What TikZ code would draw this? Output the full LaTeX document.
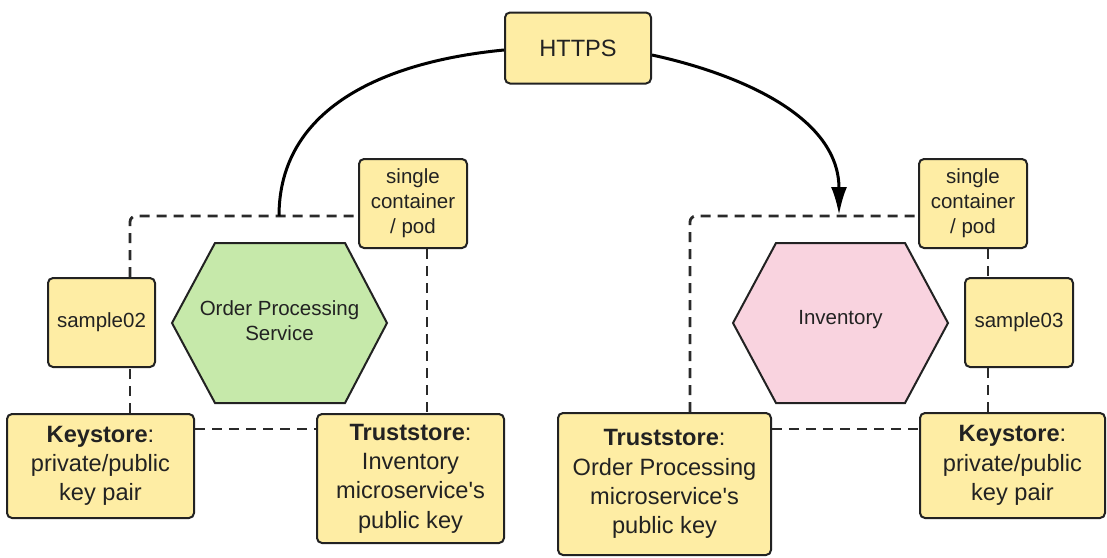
\documentclass[tikz,border=0pt]{standalone}
\usepackage{fontspec}
\setmainfont{Liberation Sans}
\newfontfamily\arialf{Liberation Sans}
\usetikzlibrary{arrows.meta,calc}
\definecolor{boxfill}{HTML}{FEEDA4}
\definecolor{boxline}{HTML}{222222}
\definecolor{hexgreen}{HTML}{C6E9AA}
\definecolor{hexpink}{HTML}{F9D3DF}
\definecolor{txt}{HTML}{222222}
\definecolor{dashcol}{HTML}{2A2A2A}
\tikzset{
  ybox/.style={draw=boxline, fill=boxfill, line width=2pt, rounded corners=5pt,
    inner sep=0pt, align=center, text=txt},
  smalltext/.style={font=\arialf\fontsize{20.5}{25}\selectfont},
  bigtext/.style={font=\arialf\fontsize{23.6}{29.3}\selectfont},
  hexshape/.style={draw=boxline, line width=2pt, line join=miter},
  hextext/.style={inner sep=0pt, align=center, text=txt, font=\arialf\fontsize{20.5}{25}\selectfont},
  frame/.style={draw=dashcol, line width=2.8pt, dash pattern=on 10pt off 7pt},
  link/.style={draw=black, line width=3pt},
}
\begin{document}
\begin{tikzpicture}[x=1pt,y=-1pt]
\useasboundingbox (0,0) rectangle (1107,557);

% top box
\node[ybox, bigtext, minimum width=146pt, minimum height=71pt] (https) at (578,48) {HTTPS};

% container labels
\node[ybox, smalltext, minimum width=108pt, minimum height=89pt] (cont1) at (413,203.5) {single\\container\\/ pod};
\node[ybox, smalltext, minimum width=108pt, minimum height=89pt] (cont2) at (973,203.5) {single\\container\\/ pod};

% sample boxes
\node[ybox, smalltext, minimum width=107pt, minimum height=89pt] (s02) at (101.5,322.5) {sample02};
\node[ybox, smalltext, minimum width=108pt, minimum height=89pt] (s03) at (1019,322.5) {sample03};

% stores
\node[ybox, bigtext, minimum width=187pt, minimum height=104pt] (ks1) at (100.5,466) {\textbf{Keystore}:\\private/public\\key pair};
\node[ybox, bigtext, minimum width=187pt, minimum height=129pt] (ts1) at (410.5,478.5) {\textbf{Truststore}:\\Inventory\\microservice's\\public key};
\node[ybox, bigtext, minimum width=213pt, minimum height=142pt] (ts2) at (664.5,484) {\textbf{Truststore}:\\Order Processing\\microservice's\\public key};
\node[ybox, bigtext, minimum width=185pt, minimum height=105pt] (ks2) at (1012.5,465.5) {\textbf{Keystore}:\\private/public\\key pair};

% hexagons
\coordinate (h1) at (279.5,323);
\coordinate (h2) at (840.5,323);
\draw[hexshape, fill=hexgreen] ($(h1)+(-107.5,0)$) -- ++(43,-80) -- ++(130,0) -- ++(42,80) -- ++(-42,80) -- ++(-130,0) -- cycle;
\draw[hexshape, fill=hexpink] ($(h2)+(-107.5,0)$) -- ++(43,-80) -- ++(129,0) -- ++(43,80) -- ++(-43,80) -- ++(-129,0) -- cycle;
\node[hextext] (ops) at (279.5,320.5) {Order Processing\\Service};
\node[hextext] (inv) at (840.5,320) {Inventory};

% dashed frames, left
\coordinate (L1) at (130,216);
\coordinate (L2) at (427,0);
\coordinate (L3) at (0,429);
\draw[frame, rounded corners=6pt] (s02.north -| L1) -- (L1) -- (cont1.west |- L1);
\draw[frame] (ks1.north -| L1) -- (s02.south -| L1);
\draw[frame] (cont1.south -| L2) -- (ts1.north -| L2);
\draw[frame] (ks1.east |- L3) -- (ts1.west |- L3);

% dashed frames, right
\coordinate (R1) at (690,216);
\coordinate (R2) at (988,0);
\draw[frame, rounded corners=6pt] (ts2.north -| R1) -- (R1) -- (cont2.west |- R1);
\draw[frame] (cont2.south -| R2) -- (s03.north -| R2);
\draw[frame] (s03.south -| R2) -- (ks2.north -| R2);
\draw[frame] (ts2.east |- L3) -- (ks2.west |- L3);

% HTTPS links
\coordinate (P1) at (279,216);
\coordinate (P2) at (839,215);
\draw[link] (https.west |- 0,50) .. controls (380,62) and (279,110) .. (P1);
\draw[link, -{Latex[length=28pt,width=16pt]}] (https.east |- 0,55) .. controls (735,73) and (839,115) .. (P2);
\end{tikzpicture}
\end{document}
